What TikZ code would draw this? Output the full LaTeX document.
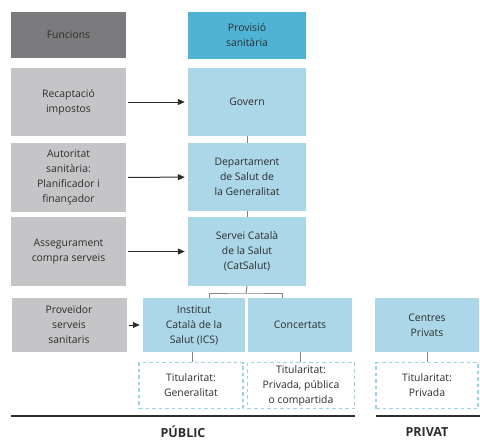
\documentclass[tikz,border=0pt]{standalone}
\usepackage{fontspec}
\setmainfont{Open Sans}
\usetikzlibrary{arrows.meta,positioning}
\definecolor{fnGrey}{RGB}{123,123,125}
\definecolor{rowGrey}{RGB}{197,197,199}
\definecolor{provBlue}{RGB}{78,179,213}
\definecolor{cellBlue}{RGB}{172,215,232}
\definecolor{txtGrey}{RGB}{45,45,45}
\definecolor{linkGrey}{RGB}{135,131,129}
\tikzset{
  box/.style={inner sep=0pt, align=center, text=txtGrey,
    font=\fontsize{10.4}{15}\selectfont},
  fnbox/.style={box, fill=rowGrey, minimum width=115pt},
  provbox/.style={box, fill=cellBlue, minimum width=118pt},
  ownbox/.style={box, draw=cellBlue!85!provBlue, line width=1.4pt, dash pattern=on 3.5pt off 3pt,
    minimum height=46pt},
  flow/.style={-{Triangle[length=7pt,width=6pt]}, line width=1pt, draw=txtGrey,
    shorten <=2pt, shorten >=3pt},
  link/.style={line width=1pt, linkGrey},
  baseln/.style={line width=1.5pt, txtGrey},
  sector/.style={text=txtGrey, font=\fontsize{12.5}{14}\selectfont\bfseries},
}

\begin{document}
\begin{tikzpicture}[x=1pt,y=-1pt]
    \useasboundingbox (0,0) rectangle (480,440);
    % headings
    \node[fnbox, fill=fnGrey, minimum height=46pt] (fn) at (68.5,35) {Funcions};
    \node[provbox, fill=provBlue, minimum height=47pt] (prov) at (247,35.5) {Provisió\\sanitària};
    % functions and who carries them out
    \node[fnbox, minimum height=68pt] (recap) at (68.5,102) {Recaptació\\impostos};
    \node[provbox, minimum height=68pt] (govern) at (247,102) {Govern};
    \node[fnbox, minimum height=69pt] (autor) at (68.5,177.5) {Autoritat\\sanitària:\\Planificador i\\finançador};
    \node[provbox, minimum height=68pt] (dept) at (247,177) {Departament\\de Salut de\\la Generalitat};
    \node[fnbox, minimum height=69pt] (asseg) at (68.5,251.5) {Assegurament\\compra serveis};
    \node[provbox, minimum height=69pt] (servei) at (247,251.5) {Servei Català\\de la Salut\\(CatSalut)};
    \node[fnbox, minimum height=54pt] (prove) at (69,325) {Proveïdor\\serveis\\sanitaris};
    % providers
    \node[provbox, minimum width=102pt, minimum height=54pt] (inst) at (194,325) {Institut\\Català de la\\Salut (ICS)};
    \node[provbox, minimum width=104pt, minimum height=54pt] (conc) at (300,325) {Concertats};
    \node[provbox, minimum width=104pt, minimum height=54pt] (priv) at (427,325) {Centres\\Privats};
    % ownership
    \node[ownbox, minimum width=104pt] (tinst) at (191,385.5) {Titularitat:\\Generalitat};
    \node[ownbox, minimum width=107pt] (tconc) at (301,385.5) {Titularitat:\\Privada, pública\\o compartida};
    \node[ownbox, minimum width=102pt] (tpriv) at (427,385.5) {Titularitat:\\Privada};
    % arrows
    \draw[flow] (recap) -- (govern);
    \draw[flow] (autor) -- (dept);
    \draw[flow] (asseg) -- (servei);
    \draw[flow] (prove) -- (inst);
    % links
    \draw[link] (govern.south) -- (dept.north);
    \draw[link] (dept.south) -- (servei.north);
    \coordinate (brk) at (246,293);
    \draw[link] (servei.south) -- (brk);
    \draw[link] ([xshift=15pt]inst.north) |- (brk) -| ([xshift=-18pt]conc.north);
    \draw[link] ([xshift=-2pt]inst.south) -- ([xshift=1pt]tinst.north);
    \draw[link] (conc.south) -- (conc.south |- tconc.north);
    \draw[link] (priv.south) -- (tpriv.north);
    % public / private
    \coordinate (pubL) at (11,416);
    \coordinate (pubR) at (355,416);
    \coordinate (prvL) at (376,416);
    \coordinate (prvR) at (480,416);
    \draw[baseln] (pubL) -- (pubR);
    \draw[baseln] (prvL) -- (prvR);
    \node[sector] (pub) at (183,432) {PÚBLIC};
    \node[sector] (prv) at (427,432) {PRIVAT};
\end{tikzpicture}
\end{document}
